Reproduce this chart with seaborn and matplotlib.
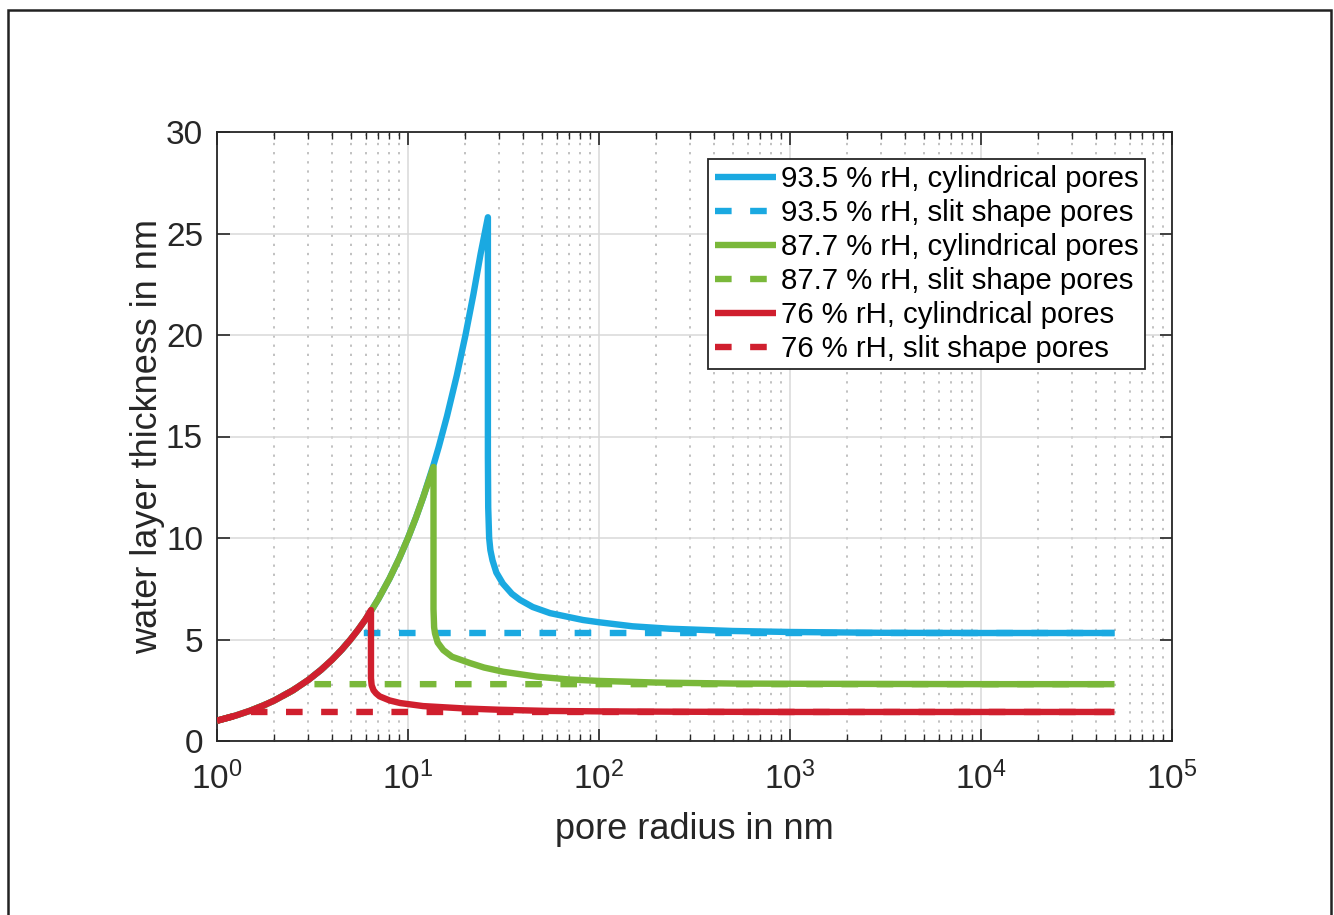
import matplotlib
matplotlib.use("Agg")
import matplotlib.pyplot as plt
from matplotlib.ticker import FixedLocator, FixedFormatter, LogLocator, NullFormatter, NullLocator
from matplotlib.patches import Rectangle
import seaborn as sns
import pandas as pd

# ---- data: pore radius (nm) vs. water layer thickness (nm) ----
r_cyl_935 = [1.0, 1.25, 1.5, 1.75, 2.0, 2.5, 3.0, 3.5, 4.0, 4.5, 5.0, 5.5, 6.0, 6.4, 7.0, 8.0, 9.0,
             10.0, 11.0, 12.0, 13.6, 14.5, 16.0, 18.0, 20.0, 22.0, 24.0, 26.2,
             26.2, 26.3, 26.6, 27.0, 27.7, 29.0, 31.4, 35.0, 38.6, 45.0, 55.4, 70.0, 82.5, 100.0,
             150.0, 235.0, 500.0, 1000.0, 3000.0, 10000.0, 50000.0]
t_cyl_935 = [1.0, 1.25, 1.5, 1.75, 2.0, 2.5, 3.0, 3.5, 4.0, 4.5, 5.0, 5.5, 6.0, 6.4, 7.0, 8.0, 9.0,
             10.0, 11.0, 12.0, 13.6, 14.5, 16.0, 18.0, 20.0, 22.0, 24.0, 25.8,
             14.0, 11.5, 10.0, 9.4, 8.9, 8.3, 7.75, 7.25, 6.95, 6.6, 6.3, 6.1, 5.96, 5.85,
             5.65, 5.53, 5.42, 5.37, 5.33, 5.32, 5.32]

r_slit_935 = [1.0, 1.25, 1.5, 1.75, 2.0, 2.5, 3.0, 3.5, 4.0, 4.5, 5.0, 5.32, 50000.0]
t_slit_935 = [1.0, 1.25, 1.5, 1.75, 2.0, 2.5, 3.0, 3.5, 4.0, 4.5, 5.0, 5.32, 5.32]

r_cyl_877 = [1.0, 1.25, 1.5, 1.75, 2.0, 2.5, 3.0, 3.5, 4.0, 4.5, 5.0, 5.5, 6.0, 6.4, 7.0, 8.0, 9.0,
             10.0, 11.0, 12.0, 13.6,
             13.6, 13.7, 13.85, 14.3, 15.3, 17.0, 21.1, 25.0, 31.6, 47.2, 70.0, 100.0, 200.0,
             500.0, 1000.0, 10000.0, 50000.0]
t_cyl_877 = [1.0, 1.25, 1.5, 1.75, 2.0, 2.5, 3.0, 3.5, 4.0, 4.5, 5.0, 5.5, 6.0, 6.4, 7.0, 8.0, 9.0,
             10.0, 11.0, 12.0, 13.5,
             6.5, 5.6, 5.3, 4.85, 4.48, 4.15, 3.84, 3.62, 3.41, 3.17, 3.03, 2.96, 2.88,
             2.83, 2.82, 2.8, 2.8]

r_slit_877 = [1.0, 1.25, 1.5, 1.75, 2.0, 2.4, 2.8, 50000.0]
t_slit_877 = [1.0, 1.25, 1.5, 1.75, 2.0, 2.4, 2.8, 2.8]

r_cyl_76 = [1.0, 1.25, 1.5, 1.75, 2.0, 2.5, 3.0, 3.5, 4.0, 4.5, 5.0, 5.5, 6.0, 6.4,
            6.4, 6.45, 6.6, 6.8, 7.1, 8.0, 9.1, 12.0, 20.0, 30.0, 55.0, 100.0, 300.0, 1000.0,
            10000.0, 50000.0]
t_cyl_76 = [1.0, 1.25, 1.5, 1.75, 2.0, 2.5, 3.0, 3.5, 4.0, 4.5, 5.0, 5.5, 6.0, 6.45,
            3.1, 2.75, 2.5, 2.35, 2.2, 2.0, 1.87, 1.72, 1.6, 1.54, 1.48, 1.46, 1.44, 1.43,
            1.43, 1.43]

r_slit_76 = [1.0, 1.2, 1.43, 50000.0]
t_slit_76 = [1.0, 1.2, 1.43, 1.43]

series_labels = ["93.5 % rH, cylindrical pores", "93.5 % rH, slit shape pores",
                 "87.7 % rH, cylindrical pores", "87.7 % rH, slit shape pores",
                 "76 % rH, cylindrical pores", "76 % rH, slit shape pores"]

x_ticks = [1, 10, 100, 1000, 10000, 100000]
x_tick_labels = [r"$\mathregular{10^{0}}$", r"$\mathregular{10^{1}}$", r"$\mathregular{10^{2}}$",
                 r"$\mathregular{10^{3}}$", r"$\mathregular{10^{4}}$", r"$\mathregular{10^{5}}$"]
y_ticks = [0, 5, 10, 15, 20, 25, 30]

# ---- style ----
sns.set_theme(style="white")
plt.rcParams["font.family"] = ["Liberation Sans", "DejaVu Sans"]
plt.rcParams["mathtext.fontset"] = "custom"
plt.rcParams["mathtext.rm"] = "Liberation Sans"
plt.rcParams["mathtext.default"] = "regular"

blue = "#1aa9e1"
green = "#7ab83a"
red = "#d01f2e"
ink = "#262626"

fig = plt.figure(figsize=(13.34, 9.15), dpi=100)
fig.patch.set_facecolor("white")
ax = fig.add_axes([217 / 1334, 1 - 741 / 915, (1172 - 217) / 1334, (741 - 132) / 915])

lw = 4.6
dash = (0, (2.6, 2.9))
curves = [
    (r_cyl_935, t_cyl_935, blue, "-"),
    (r_slit_935, t_slit_935, blue, dash),
    (r_cyl_877, t_cyl_877, green, "-"),
    (r_slit_877, t_slit_877, green, dash),
    (r_cyl_76, t_cyl_76, red, "-"),
    (r_slit_76, t_slit_76, red, dash),
]
for (r, t, c, ls), lab in zip(curves, series_labels):
    df = pd.DataFrame({"r": r, "t": t})
    sns.lineplot(data=df, x="r", y="t", ax=ax, sort=False, estimator=None,
                 color=c, linewidth=lw, linestyle=ls, label=lab,
                 solid_capstyle="butt", dash_capstyle="butt", solid_joinstyle="round", zorder=3)

ax.set_xscale("log")
ax.set_xlim(1, 1e5)
ax.set_ylim(0, 30)
ax.xaxis.set_major_locator(FixedLocator(x_ticks))
ax.xaxis.set_major_formatter(FixedFormatter(x_tick_labels))
ax.xaxis.set_minor_locator(LogLocator(base=10, subs=range(2, 10), numticks=50))
ax.xaxis.set_minor_formatter(NullFormatter())
ax.yaxis.set_major_locator(FixedLocator(y_ticks))
ax.yaxis.set_minor_locator(NullLocator())

ax.set_axisbelow(True)
ax.grid(which="major", color="#d9d9d9", linewidth=1.1, linestyle="-")
ax.xaxis.grid(which="minor", color="#b0b0b0", linewidth=1.1, linestyle=(0, (1.5, 4.5)))

for s in ax.spines.values():
    s.set_color(ink)
    s.set_linewidth(1.3)
    s.set_visible(True)

ax.tick_params(which="both", direction="in", top=True, right=True, bottom=True, left=True,
               color=ink, labelcolor=ink)
ax.tick_params(which="major", length=9, width=1.2, labelsize=24)
ax.tick_params(axis="x", which="major", pad=15)
ax.tick_params(axis="y", which="major", pad=10)
ax.tick_params(which="minor", length=5, width=1.0)

ax.set_xlabel("pore radius in nm", fontsize=26, color=ink, labelpad=11)
ax.set_ylabel("water layer thickness in nm", fontsize=26, color=ink, labelpad=1)

leg = ax.legend(loc="upper right", bbox_to_anchor=((1145 - 217) / 955, 1 - (159 - 132) / 609),
                borderaxespad=0, fontsize=21.2, frameon=True, fancybox=False, shadow=False,
                handlelength=2.1, handletextpad=0.15, labelspacing=0.2, borderpad=0.22)
leg.get_frame().set_edgecolor(ink)
leg.get_frame().set_linewidth(1.3)
leg.get_frame().set_alpha(1)
for txt in leg.get_texts():
    txt.set_color("black")

# outer frame around the figure
fig.patches.append(Rectangle((8 / 1334, -0.05), (1331 - 8) / 1334, 1.05 - 10 / 915,
                             transform=fig.transFigure, fill=False, edgecolor="#222222",
                             linewidth=1.8, zorder=10))

fig.savefig("out.png", dpi=100, facecolor="white")
